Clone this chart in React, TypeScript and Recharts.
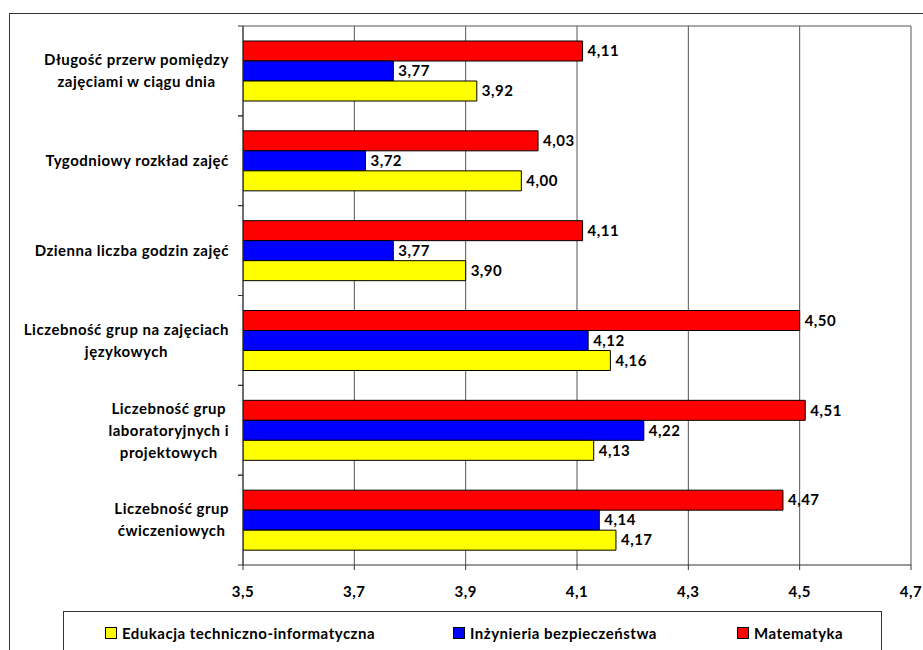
import React from 'react';
import { BarChart, Bar, XAxis, YAxis, CartesianGrid, LabelList } from 'recharts';

const categories = [
  'Długość przerw pomiędzy\nzajęciami w ciągu dnia',
  'Tygodniowy rozkład zajęć',
  'Dzienna liczba godzin zajęć',
  'Liczebność grup na zajęciach\njęzykowych',
  'Liczebność grup\nlaboratoryjnych i\nprojektowych',
  'Liczebność grup\nćwiczeniowych',
];
const matematyka = [4.11, 4.03, 4.11, 4.5, 4.51, 4.47];
const inzynieria = [3.77, 3.72, 3.77, 4.12, 4.22, 4.14];
const edukacja = [3.92, 4.0, 3.9, 4.16, 4.13, 4.17];
const xTicks = [3.5, 3.7, 3.9, 4.1, 4.3, 4.5, 4.7];
const legendNames = ['Edukacja techniczno-informatyczna', 'Inżynieria bezpieczeństwa', 'Matematyka'];
const legendColors = ['#FFFF00', '#0000FF', '#FF0000'];

const data = categories.map((c, i) => ({
  category: c,
  mat: matematyka[i],
  inz: inzynieria[i],
  edu: edukacja[i],
}));

const FONT = 'Lato, "Open Sans", sans-serif';
const FS = 15;
const LS = 0.5;
const W = 923;
const H = 650;
const MARGIN = { top: 26, right: 12, bottom: 45, left: 0 };
const XAXIS_H = 40;
const BAND = (H - MARGIN.top - MARGIN.bottom - XAXIS_H) / categories.length;
const LH = 22;

let ctx: any = null;
const measure = (s: string) => {
  if (!ctx) {
    ctx = document.createElement('canvas').getContext('2d');
  }
  if (!ctx) return s.length * 7.5;
  ctx.font = `bold ${FS}px ${FONT}`;
  try {
    ctx.letterSpacing = `${LS}px`;
  } catch (e) {}
  return ctx.measureText(s).width;
};

const fmt = (v: any) => Number(v).toFixed(2).replace('.', ',');

const CatTick = (props: any) => {
  const { x, y, payload } = props;
  const lines = String(payload.value).split('\n');
  const w = Math.max(...lines.map(measure));
  const cx = x - w / 2;
  const y0 = y - ((lines.length - 1) * LH) / 2;
  return (
    <g>
      <line x1={x + 9} x2={x + 14} y1={y - BAND / 2} y2={y - BAND / 2} stroke="#333" />
      <line x1={x + 9} x2={x + 14} y1={y + BAND / 2} y2={y + BAND / 2} stroke="#333" />
      {lines.map((l, i) => (
        <text
          key={i}
          x={cx}
          y={y0 + i * LH}
          dy="0.35em"
          textAnchor="middle"
          fontFamily={FONT}
          fontWeight="bold"
          fontSize={FS}
          letterSpacing={LS}
          fill="#000"
        >
          {l}
        </text>
      ))}
    </g>
  );
};

const labelStyle = { fontFamily: FONT, fontWeight: 'bold', fontSize: FS, letterSpacing: LS, fill: '#000' } as any;

export default function App() {
  return (
    <div style={{ position: 'absolute', left: 0, top: 0, width: W, height: H, overflow: 'hidden', background: '#fff', fontFamily: FONT }}>
      <div style={{ position: 'absolute', left: 9, top: 13, width: W, height: H, borderLeft: '1.5px solid #333', borderTop: '1.5px solid #333' }} />
      <div style={{ position: 'absolute', left: 0, top: 0 }}>
        <BarChart width={W} height={H} data={data} layout="vertical" margin={MARGIN} barGap={0} barSize={20}>
          <CartesianGrid vertical={true} horizontal={true} horizontalPoints={[MARGIN.top]} stroke="#555" strokeWidth={1} />
          <XAxis
            type="number"
            domain={[3.5, 4.7]}
            ticks={xTicks}
            tickFormatter={(v: number) => v.toFixed(1).replace('.', ',')}
            height={XAXIS_H}
            tickSize={5}
            tickMargin={16}
            stroke="#333"
            tick={{ fontFamily: FONT, fontWeight: 'bold', fontSize: FS, letterSpacing: LS, fill: '#000' }}
            allowDataOverflow
          />
          <YAxis
            type="category"
            dataKey="category"
            width={243}
            tickLine={false}
            tickSize={5}
            tickMargin={9}
            stroke="#333"
            tick={<CatTick />}
            interval={0}
          />
          <Bar dataKey="mat" fill="#FF0000" stroke="#000" strokeWidth={1} isAnimationActive={false}>
            <LabelList dataKey="mat" position="right" offset={5} formatter={fmt} style={labelStyle} />
          </Bar>
          <Bar dataKey="inz" fill="#0000FF" stroke="#000" strokeWidth={1} isAnimationActive={false}>
            <LabelList dataKey="inz" position="right" offset={5} formatter={fmt} style={labelStyle} />
          </Bar>
          <Bar dataKey="edu" fill="#FFFF00" stroke="#000" strokeWidth={1} isAnimationActive={false}>
            <LabelList dataKey="edu" position="right" offset={5} formatter={fmt} style={labelStyle} />
          </Bar>
        </BarChart>
      </div>
      <div style={{ position: 'absolute', left: 63, top: 611, width: 817, height: 60, border: '1px solid #333' }}>
        {legendNames.map((n, i) => (
          <div
            key={n}
            style={{
              position: 'absolute',
              left: [41, 389, 673][i],
              top: 12,
              display: 'flex',
              alignItems: 'center',
              fontWeight: 'bold',
              fontSize: FS,
              letterSpacing: LS,
              color: '#000',
              whiteSpace: 'nowrap',
            }}
          >
            <span style={{ display: 'inline-block', width: 10, height: 10, background: legendColors[i], border: '1px solid #000', marginRight: 5 }} />
            {n}
          </div>
        ))}
      </div>
    </div>
  );
}
